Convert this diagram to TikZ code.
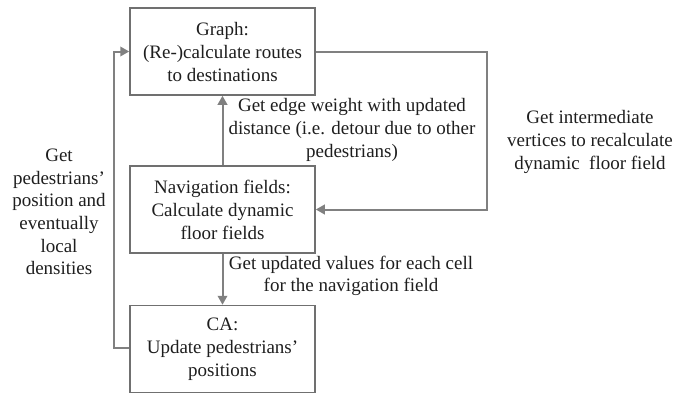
\documentclass[tikz,border=0pt]{standalone}
\usepackage{fontspec}
\setmainfont{Liberation Serif}
\usetikzlibrary{arrows.meta}
\definecolor{linegray}{RGB}{128,128,128}
\definecolor{boxgray}{RGB}{112,112,112}
\definecolor{txt}{RGB}{30,30,30}
\tikzset{
  box/.style={draw=boxgray, line width=1.5pt, minimum width=185pt, minimum height=87pt, inner sep=0pt, align=center, text=txt, font=\fontsize{19}{23}\selectfont},
  conn/.style={draw=linegray, line width=2pt, -{Triangle[length=9pt,width=9.5pt]}},
  lbl/.style={align=center, text=txt, inner sep=0pt, font=\fontsize{19}{22.7}\selectfont}
}
\begin{document}
\begin{tikzpicture}[x=1pt,y=-1pt]
\useasboundingbox (0,0) rectangle (673,394);
\node[box] (graph) at (222.5,51.5) {Graph:\\(Re-)calculate routes\\to destinations};
\node[box] (nav) at (222.5,209.5) {Navigation fields:\\Calculate dynamic\\floor fields};
\node[box] (ca) at (222.5,349) {CA:\\Update pedestrians’\\positions};
\coordinate (r1) at (487,51.5);
\coordinate (r2) at (487,209.5);
\coordinate (l1) at (114,348);
\coordinate (l2) at (114,51.5);
\draw[conn] (graph.east) -- (r1) -- (r2) -- (nav.east);
\draw[conn] (nav.north) -- (graph.south);
\draw[conn] (nav.south) -- (ca.north);
\draw[conn] (ca.west |- l1) -- (l1) -- (l2) -- (graph.west);
\node[lbl] (lab1) at (352,130) {Get edge weight with updated\\distance (i.e. detour due to other\\pedestrians)};
\node[lbl] (lab2) at (351,276) {Get updated values for each cell\\for the navigation field};
\node[lbl] (lab3) at (590,142) {Get intermediate\\vertices to recalculate\\dynamic\ \ floor field};
\node[lbl] (lab4) at (59,212) {Get\\pedestrians’\\position and\\eventually\\local\\densities};
\end{tikzpicture}
\end{document}
